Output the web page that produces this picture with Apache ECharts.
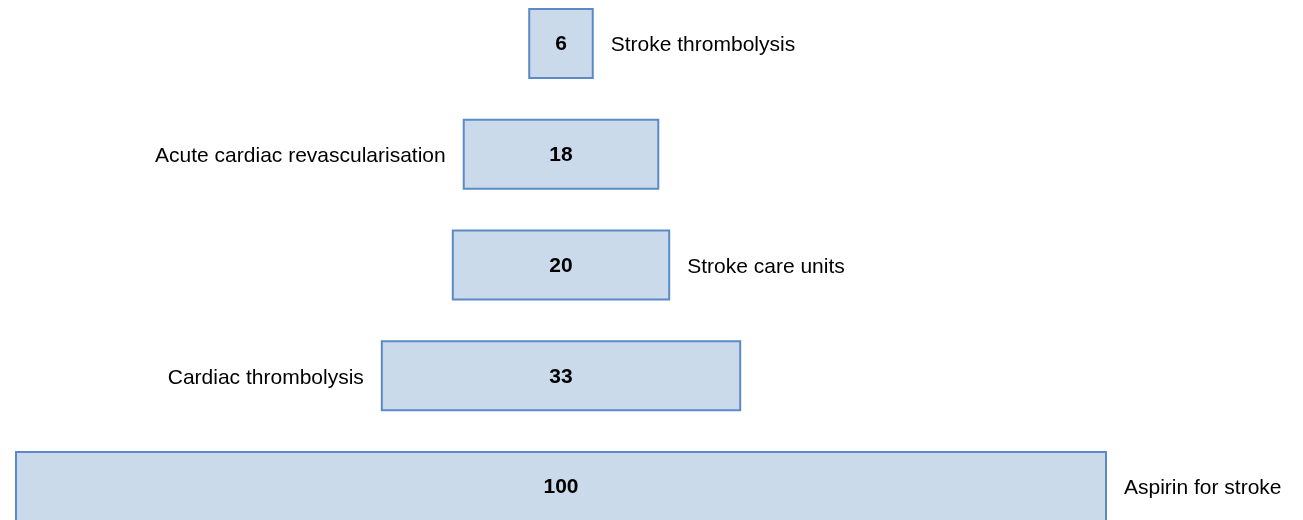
<!DOCTYPE html>
<html>
<head>
<meta charset="utf-8">
<script src="https://cdn.jsdelivr.net/npm/echarts@6/dist/echarts.min.js"></script>
<style>
  html, body { margin: 0; padding: 0; background: #fff; }
  #chart { width: 1303px; height: 520px; }
</style>
</head>
<body>
<div id="chart"></div>
<script>
// Interventions, top to bottom, with their values
const categories = [
  'Stroke thrombolysis',
  'Acute cardiac revascularisation',
  'Stroke care units',
  'Cardiac thrombolysis',
  'Aspirin for stroke'
];
const values = [6, 18, 20, 33, 100];
// Side of the bar on which each name is written
const labelSides = ['right', 'left', 'right', 'left', 'right'];

const axisMax = 100;
// Transparent offset that centres each bar on the axis midpoint
const offsets = values.map(v => (axisMax - v) / 2);

const fontFamily = '"Liberation Sans", Arial, Helvetica, sans-serif';
const barHeight = 71;

const chart = echarts.init(document.getElementById('chart'));

chart.setOption({
  animation: false,
  grid: {
    left: 15, right: 196, top: -12, bottom: -22,
    outerBoundsMode: 'none', containLabel: false
  },
  xAxis: { type: 'value', min: 0, max: axisMax, show: false },
  yAxis: { type: 'category', data: categories, inverse: true, show: false },
  series: [
    {
      type: 'bar', stack: 'bars', barWidth: barHeight,
      itemStyle: { color: 'transparent' },
      data: offsets, silent: true
    },
    {
      type: 'bar', stack: 'bars', barWidth: barHeight,
      itemStyle: { color: '#cbdaeb', borderColor: '#5b8ac6', borderWidth: 2 },
      label: {
        show: true, position: 'inside', offset: [0, 1],
        fontFamily, fontSize: 21, fontWeight: 'bold', color: '#000'
      },
      data: values
    },
    {
      type: 'bar', stack: 'names', barWidth: barHeight, barGap: '-100%',
      itemStyle: { color: 'transparent' },
      data: offsets, silent: true
    },
    {
      type: 'bar', stack: 'names', barWidth: barHeight, barGap: '-100%',
      itemStyle: { color: 'transparent' },
      silent: true,
      data: values.map((v, i) => ({
        value: v,
        label: {
          show: true,
          position: labelSides[i],
          distance: 17,
          offset: [0, 2],
          formatter: categories[i],
          fontFamily, fontSize: 21, color: '#000'
        }
      }))
    }
  ]
});
</script>
</body>
</html>
